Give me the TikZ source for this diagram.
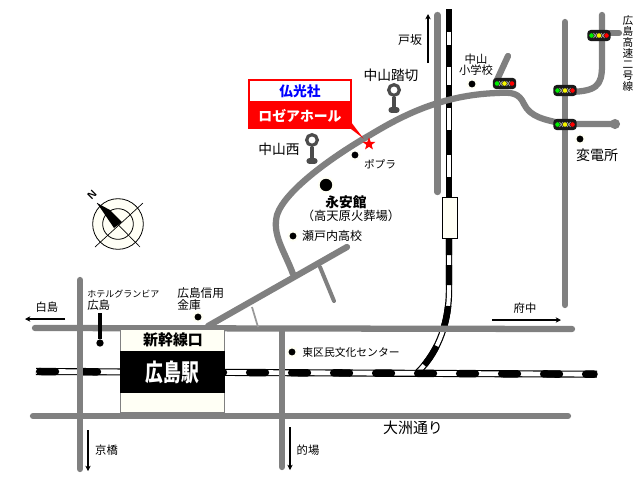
\documentclass[tikz,border=0pt]{standalone}
\usepackage{fontspec}
\setmainfont{Noto Sans CJK JP}
\usetikzlibrary{arrows.meta,shapes.geometric}
\definecolor{road}{RGB}{128,128,128}
\definecolor{cream}{RGB}{255,255,245}
\definecolor{sigg}{RGB}{0,235,0}
\definecolor{sigy}{RGB}{245,245,0}
\tikzset{
 x=0.75pt,y=-0.75pt,
 roadline/.style={draw=road,line width=4.7pt,line cap=round,line join=round},
 thinroad/.style={draw=road,line width=3pt,line cap=round},
 lbl/.style={inner sep=0pt,font=\fontsize{8.5}{10}\selectfont,align=left},
 dirarrow/.style={draw=black,line width=1.3pt,-{Stealth[length=4pt,width=4pt]}},
 spot/.style={circle,fill=black,draw=cream,line width=1.5pt,minimum size=7pt,inner sep=0pt},
 signalbox/.style={draw=none,fill=black!90,rounded corners=2.5pt,minimum width=17.5pt,minimum height=8.3pt,inner sep=0pt},
}
\newcommand{\railtrack}[2]{%
 \draw[black,line width=4.8pt,line cap=butt] #1;
 \draw[white,line width=3pt,line cap=butt] #1;
 \draw[black,line width=4.8pt,line cap=butt,dash pattern=#2] #1;
}
\newcommand{\signal}[3]{%
 \node[signalbox] (#1) at (#2,#3) {};
 \draw[black!35,line width=0.5pt] (#2-5.5,#3-2.5) -- (#2-2,#3+2.5) (#2-5.5,#3+2.5) -- (#2-2,#3-2.5)
   (#2+2,#3-2.5) -- (#2+5.5,#3+2.5) (#2+2,#3+2.5) -- (#2+5.5,#3-2.5);
 \fill[sigg] (#2-7.5,#3) circle (1.7pt);
 \fill[sigy] (#2,#3) circle (1.7pt);
 \fill[red] (#2+7.5,#3) circle (1.7pt);
}
\newcommand{\crossing}[4]{%
 \node[circle,draw=black!70,line width=2.4pt,fill=white,minimum size=8pt,inner sep=0pt] (#1) at (#2,#3) {};
 \draw[black!70,line width=2.8pt] (#1.south) -- (#2,#3+#4);
 \draw[black!70,line width=4.6pt,line cap=round] (#2-2.5,#3+#4) -- (#2+2.5,#3+#4);
}
\begin{document}
\begin{tikzpicture}
\useasboundingbox (0,0) rectangle (640,480);
\fill[white] (0,0) rectangle (640,480);
% railway
\railtrack{(449,9) -- (449,197)}{on 17.25pt off 9.75pt on 16.5pt off 13.5pt on 17.25pt off 16.5pt on 18.75pt off 16.5pt on 15pt off 30pt}
\railtrack{(449,239) -- (449,290) .. controls (449,320) and (440,350) .. (418,372)}{on 12pt off 7.5pt on 15pt off 15.75pt on 15.5pt off 16pt on 17pt off 60pt}
\draw[black,line width=5.3pt] (36,371.5) -- (597,374.2);
\draw[white,line width=3.6pt] (36,371.5) -- (597,374.2);
\draw[black,line width=5.6pt,line cap=round,dash pattern=on 11.8pt off 19.7pt] (39.7,371.5) -- (594,374.2);
% roads
\draw[roadline] (35,328) -- (572,329);
\draw[roadline] (33,416) -- (568,416);
\draw[roadline] (80,280) -- (80,469);
\draw[roadline] (282,330) -- (282,467);
\draw[roadline] (437.5,15) -- (437.5,192);
\draw[roadline] (565,22) -- (565,305);
\draw[roadline] (208,326) -- (347,247);
\draw[thinroad] (320,267) -- (334,301);
\draw[draw=road!80,line width=1.3pt] (252,307) -- (258,327);
\draw[roadline] (293,274) .. controls (284,250) and (272,235) .. (277,215)
  .. controls (285,190) and (335,155) .. (370,135)
  .. controls (400,117) and (440,95) .. (497,93)
  .. controls (512,92) and (519,93) .. (524,104)
  .. controls (530,117) and (545,120) .. (565,124) -- (612,124);
\fill[road] (615,124) circle (3.8pt);
\draw[roadline] (497,80) -- (508,56);
\draw[roadline] (602,15) -- (602,65) .. controls (602,86) and (597,92) .. (565,92);
\draw[roadline] (602,33) -- (619,33);
% railway box
\node[draw=black,fill=cream,line width=0.8pt,minimum width=11.5pt,minimum height=31pt,inner sep=0pt] (tunnel) at (450,218) {};
% station
\node[draw=road,fill=cream,line width=1.2pt,minimum width=78pt,minimum height=62pt,inner sep=0pt] (station) at (172.5,371) {};
\node[fill=black,minimum width=79pt,minimum height=31.5pt,inner sep=0pt,text=white,font=\fontsize{18}{20}\bfseries\selectfont] (eki) at (172.5,372) {\scalebox{0.74}[1]{広島駅}};
\node[lbl,font=\fontsize{11.2}{12}\bfseries\selectfont] (kuchi) at (173,340) {新幹線口};
% direction arrows
\coordinate (a1s) at (65,319); \coordinate (a1e) at (25,319);
\draw[dirarrow] (a1s) -- (a1e);
\node[lbl] (shiratori) at (47,307.5) {白島};
\coordinate (a2s) at (492,320); \coordinate (a2e) at (561,320);
\draw[dirarrow] (a2s) -- (a2e);
\node[lbl] (fuchu) at (525,308.5) {府中};
\coordinate (a3s) at (428,63); \coordinate (a3e) at (428,14);
\draw[dirarrow] (a3s) -- (a3e);
\node[lbl,font=\fontsize{9}{10}\selectfont] (saka) at (410,40) {戸坂};
\coordinate (a4s) at (88,430); \coordinate (a4e) at (88,471);
\draw[dirarrow] (a4s) -- (a4e);
\node[lbl] (kyobashi) at (106.5,450) {京橋};
\coordinate (a5s) at (290,427); \coordinate (a5e) at (290,470);
\draw[dirarrow] (a5s) -- (a5e);
\node[lbl] (matoba) at (308,450) {的場};
% signals
\signal{s1}{504.5}{83.5}
\signal{s2}{565}{90.5}
\signal{s3}{565}{124.5}
\signal{s4}{599}{35.5}
% crossings
\crossing{c1}{394}{90}{20}
\crossing{c2}{312}{140}{21}
% spots
\node[spot] (d1) at (355,155) {};
\node[spot] (d2) at (472,84) {};
\node[spot] (d3) at (580,139) {};
\node[spot,minimum size=11pt] (d4) at (326,185) {};
\node[spot] (d5) at (293,236) {};
\node[spot] (d6) at (292,352) {};
\node[spot] (d7) at (198,317) {};
\node[circle,fill=black,minimum size=5.5pt,inner sep=0pt] (d8) at (100,343) {};
\coordinate (hotel) at (100,313);
\draw[black,line width=2.5pt] (hotel) -- (d8);
% labels
\node[lbl,font=\fontsize{10.3}{12}\selectfont] (l1) at (391,75) {中山踏切};
\node[lbl,font=\fontsize{10.3}{12}\selectfont] (l2) at (279,149) {中山西};
\node[lbl,font=\fontsize{8}{9}\selectfont] (l3) at (380,164) {ポプラ};
\node[lbl,font=\fontsize{8.5}{8.3}\selectfont,align=center] (l4) at (476,65) {中山\\小学校};
\node[lbl,font=\fontsize{10.5}{12}\selectfont] (l5) at (597,155) {変電所};
\node[lbl,font=\fontsize{8}{8.3}\selectfont,align=center] (l6) at (628,53.5) {広\\島\\高\\速\\二\\号\\線};
\node[lbl,font=\fontsize{10.3}{12}\bfseries\selectfont] (l7) at (346,202) {永安館};
\node[lbl,font=\fontsize{9.2}{10}\selectfont] (l8) at (351,216) {（高天原火葬場）};
\node[lbl,font=\fontsize{9}{10}\selectfont] (l9) at (332,236) {瀬戸内高校};
\node[lbl,font=\fontsize{8.1}{9}\selectfont] (l10) at (351,352) {東区民文化センター};
\node[lbl,font=\fontsize{6.75}{8}\selectfont,anchor=west] (l11) at (87,294) {ホテルグランビア};
\node[lbl,font=\fontsize{8.6}{9}\selectfont,anchor=west] (l11b) at (87,305) {広島};
\node[lbl,font=\fontsize{8.8}{8}\selectfont,anchor=west] (l12) at (177,299) {広島信用\\金庫};
\node[lbl,font=\fontsize{11.2}{12}\selectfont] (l13) at (413,428) {大洲通り};
% callout
\fill[red] (351,122) -- (363.5,138.5) -- (351,129) -- cycle;
\node[draw=red,fill=white,line width=1.7pt,minimum width=76.5pt,minimum height=16.5pt,inner sep=0pt,text=blue,font=\fontsize{10.3}{12}\bfseries\selectfont] (name) at (300,91) {仏光社};
\node[fill=red,minimum width=78pt,minimum height=19.5pt,inner sep=0pt,text=white,font=\fontsize{10.4}{12}\bfseries\selectfont] (hall) at (300,116) {ロゼアホール};
\node[star,star points=5,star point ratio=2.4,fill=red,minimum size=10pt,inner sep=0pt] (star) at (369,144) {};
% compass
\node[circle,draw=black,fill=cream,line width=0.6pt,minimum size=38pt,inner sep=0pt] (cmpo) at (118,224) {};
\node[circle,draw=black,fill=cream,line width=0.6pt,minimum size=23pt,inner sep=0pt] (cmpi) at (118,224) {};
\coordinate (ca) at (143,203); \coordinate (cb) at (95,247);
\coordinate (cc) at (97,203); \coordinate (cd) at (140,247);
\draw[black,line width=0.5pt] (ca) -- (cb);
\draw[black,line width=0.5pt] (cc) -- (cd);
\fill[black] (97,203) -- (110,210) -- (122,222) -- (114,228) -- cycle;
\node[lbl,rotate=45,font=\fontsize{8}{9}\bfseries\sffamily\selectfont] (north) at (92,195) {N};
\end{tikzpicture}
\end{document}
